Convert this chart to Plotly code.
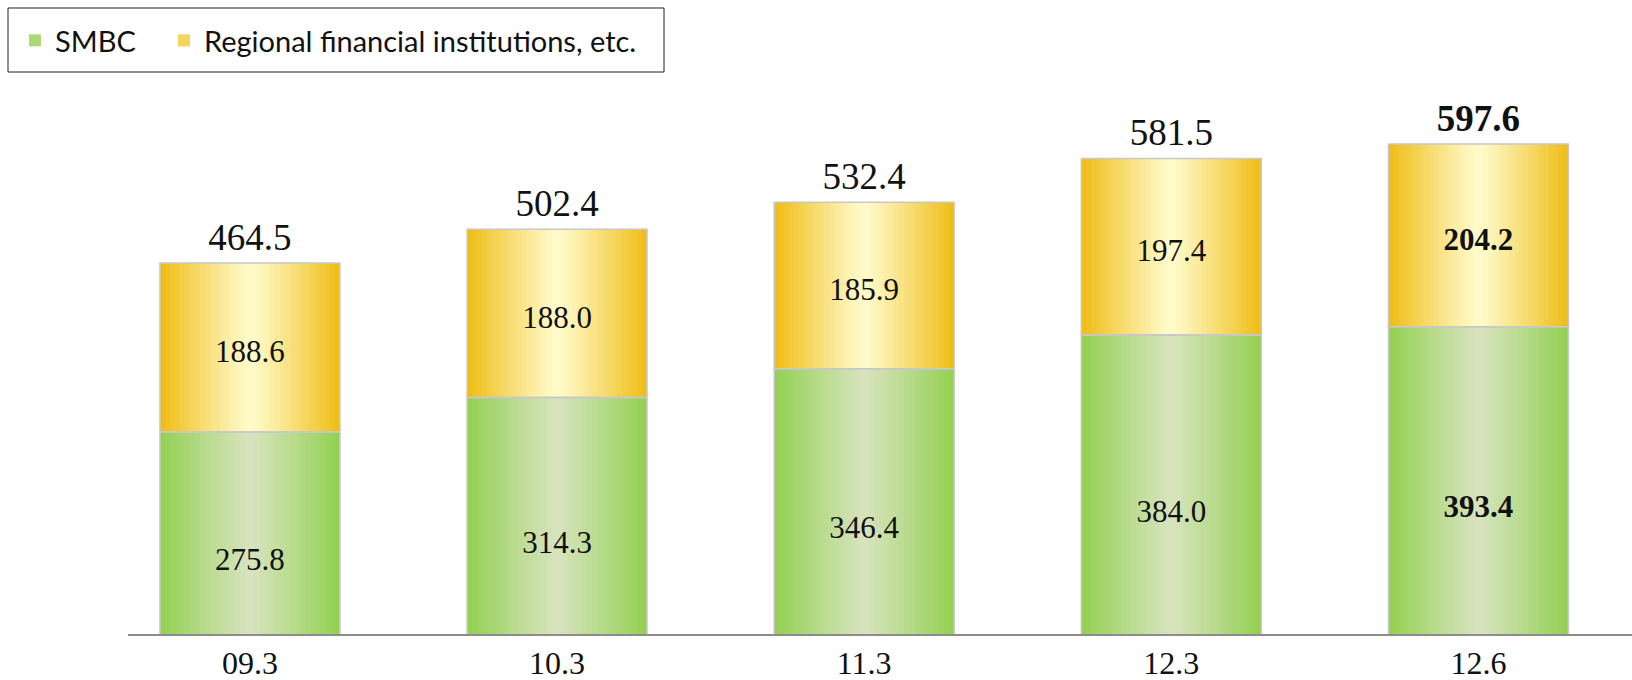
import plotly.graph_objects as go

categories = ["09.3", "10.3", "11.3", "12.3", "12.6"]
smbc = [275.8, 314.3, 346.4, 384.0, 393.4]
regional = [188.6, 188.0, 185.9, 197.4, 204.2]
totals = [464.5, 502.4, 532.4, 581.5, 597.6]
bold = [False, False, False, False, True]

W = 0.586
N = 36
GREEN_EDGE = (146, 208, 80)
GREEN_MID = (215, 227, 190)
YEL_EDGE = (239, 188, 18)
YEL_MID = (255, 251, 204)
PX_PER_UNIT = 554 / 619

# plot area in pixels
L, R, T, B = 128, 1632, 80, 634


def px_x(p):
    return (p - L) / (R - L)


def px_y(p):
    return (B - p) / (B - T)


def mix(edge, mid, t):
    return "rgb(%d,%d,%d)" % tuple(round(m + (e - m) * t) for e, m in zip(edge, mid))


def fmt(v, b):
    s = f"{v:.1f}"
    return f"<b>{s}</b>" if b else s


fig = go.Figure()
base_reg = smbc

# legend swatches (solid, hidden under gradient strips)
fig.add_trace(go.Bar(x=categories, y=smbc, name="SMBC", width=W, legend="legend",
                     marker=dict(color="rgb(172,216,120)", line=dict(width=0))))
fig.add_trace(go.Bar(x=categories, y=regional, base=base_reg, name="Regional financial institutions, etc.",
                     width=W, legend="legend2",
                     marker=dict(color="rgb(246,214,90)", line=dict(width=0))))

step = W / N
for k in range(N):
    c = (k + 0.5) / N
    t = abs(c - 0.5) / 0.5
    t = t ** 1.1
    off = -W / 2 + k * step
    wd = step * 1.15 if k < N - 1 else step
    fig.add_trace(go.Bar(x=categories, y=smbc, offset=off, width=wd, showlegend=False,
                         hoverinfo="skip",
                         marker=dict(color=mix(GREEN_EDGE, GREEN_MID, t), line=dict(width=0))))
    fig.add_trace(go.Bar(x=categories, y=regional, base=base_reg, offset=off, width=wd,
                         showlegend=False, hoverinfo="skip",
                         marker=dict(color=mix(YEL_EDGE, YEL_MID, t), line=dict(width=0))))

# outlines
fig.add_trace(go.Bar(x=categories, y=smbc, width=W, showlegend=False, hoverinfo="skip",
                     marker=dict(color="rgba(0,0,0,0)", line=dict(color="#c8c8c8", width=1.5))))
fig.add_trace(go.Bar(x=categories, y=regional, base=base_reg, width=W, showlegend=False,
                     hoverinfo="skip",
                     marker=dict(color="rgba(0,0,0,0)", line=dict(color="#c8c8c8", width=1.5))))

serif = "Liberation Serif, Times New Roman, serif"
shift_in = -7 / PX_PER_UNIT   # small downward nudge of inner labels (pixels -> units)
shift_top = 4 / PX_PER_UNIT
# inner labels
fig.add_trace(go.Scatter(x=categories, y=[v / 2 + shift_in for v in smbc], mode="text",
                         text=[fmt(v, b) for v, b in zip(smbc, bold)], showlegend=False,
                         textfont=dict(family=serif, size=31, color="#111"), cliponaxis=False,
                         hoverinfo="skip"))
fig.add_trace(go.Scatter(x=categories, y=[s + r / 2 + shift_in for s, r in zip(smbc, regional)],
                         mode="text",
                         text=[fmt(v, b) for v, b in zip(regional, bold)], showlegend=False,
                         textfont=dict(family=serif, size=31, color="#111"), cliponaxis=False,
                         hoverinfo="skip"))
fig.add_trace(go.Scatter(x=categories, y=[v + shift_top for v in totals], mode="text",
                         textposition="top center",
                         text=[fmt(v, b) for v, b in zip(totals, bold)], showlegend=False,
                         textfont=dict(family=serif, size=37, color="#111"), cliponaxis=False,
                         hoverinfo="skip"))

legfont = dict(family="Lato, Open Sans, sans-serif", size=29, color="#111")
fig.update_layout(
    width=1632, height=680,
    margin=dict(l=L, r=1632 - R, t=T, b=680 - B, autoexpand=False),
    barmode="overlay",
    paper_bgcolor="white", plot_bgcolor="white",
    showlegend=True,
    legend=dict(orientation="h", x=px_x(15), y=px_y(15), xanchor="left", yanchor="top",
                borderwidth=0, bgcolor="rgba(0,0,0,0)", font=legfont),
    legend2=dict(orientation="h", x=px_x(164), y=px_y(15), xanchor="left", yanchor="top",
                 borderwidth=0, bgcolor="rgba(0,0,0,0)", font=legfont),
    shapes=[dict(type="rect", xref="paper", yref="paper",
                 x0=px_x(8), x1=px_x(664), y0=px_y(72), y1=px_y(8),
                 line=dict(color="#222", width=1), fillcolor="rgba(0,0,0,0)", layer="above")],
    xaxis=dict(type="category", range=[-0.397, 4.5], showline=True, linecolor="#8c8c8c", linewidth=2,
               showgrid=False, zeroline=False, ticks="", automargin=False,
               tickfont=dict(family=serif, size=32, color="#111")),
    yaxis=dict(range=[50, 669], visible=False, showgrid=False, zeroline=False, automargin=False),
)

fig.write_html("out.html")
